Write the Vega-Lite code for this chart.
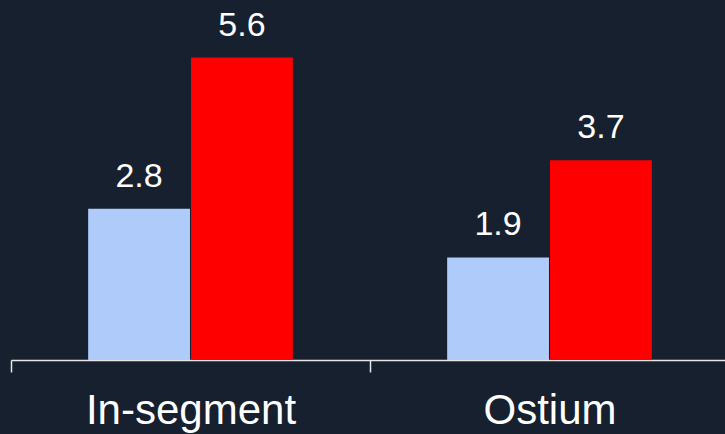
{
  "$schema": "https://vega.github.io/schema/vega-lite/v6.json",
  "width": 718,
  "height": 360,
  "autosize": {"type": "none"},
  "padding": {"left": 11, "top": 0, "right": 0, "bottom": 74},
  "background": "#16202e",
  "config": {"view": {"stroke": null}, "font": "Liberation Sans"},
  "data": {
    "values": [
      {"site": "In-segment", "group": "A", "value": 2.8},
      {"site": "In-segment", "group": "B", "value": 5.6},
      {"site": "Ostium", "group": "A", "value": 1.9},
      {"site": "Ostium", "group": "B", "value": 3.7}
    ]
  },
  "encoding": {
    "x": {
      "field": "site",
      "type": "nominal",
      "sort": ["In-segment", "Ostium"],
      "scale": {"paddingInner": 0, "paddingOuter": 0},
      "axis": {
        "title": null,
        "labelAngle": 0,
        "labelFontSize": 42,
        "labelLimit": 0,
        "labelColor": "#ffffff",
        "labelFont": "Liberation Sans",
        "labelPadding": 18,
        "domainColor": "#e6e6e6",
        "domainWidth": 1.5,
        "tickColor": "#e6e6e6",
        "tickWidth": 1.5,
        "tickSize": 12,
        "tickBand": "extent"
      }
    },
    "xOffset": {
      "field": "group",
      "type": "nominal",
      "scale": {"paddingOuter": 0.75, "paddingInner": 0.01}
    },
    "y": {
      "field": "value",
      "type": "quantitative",
      "scale": {"domain": [0, 6.667], "nice": false, "zero": true},
      "axis": null
    }
  },
  "layer": [
    {
      "mark": {"type": "bar"},
      "encoding": {
        "color": {
          "field": "group",
          "type": "nominal",
          "scale": {"domain": ["A", "B"], "range": ["#aecbfa", "#fe0000"]},
          "legend": null
        }
      }
    },
    {
      "mark": {"type": "text", "baseline": "alphabetic", "dy": -22, "fontSize": 34, "color": "#ffffff", "font": "Liberation Sans"},
      "encoding": {
        "text": {"field": "value", "type": "quantitative", "format": ".1f"}
      }
    }
  ]
}
